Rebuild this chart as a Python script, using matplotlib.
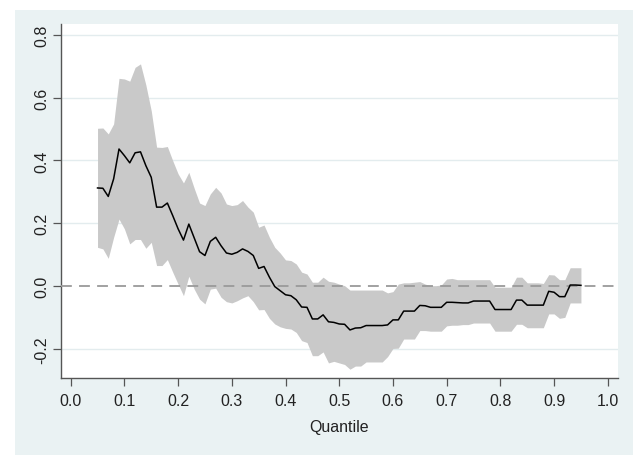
"""
Quantile regression coefficients with confidence band (Stata-style plot).
"""

import matplotlib
matplotlib.use('Agg')
import matplotlib.pyplot as plt
from matplotlib.patches import Rectangle

# quantiles 0.05 .. 0.95
quantiles = [
    0.05, 0.06, 0.07, 0.08, 0.09, 0.10, 0.11, 0.12, 0.13, 0.14,
    0.15, 0.16, 0.17, 0.18, 0.19, 0.20, 0.21, 0.22, 0.23, 0.24,
    0.25, 0.26, 0.27, 0.28, 0.29, 0.30, 0.31, 0.32, 0.33, 0.34,
    0.35, 0.36, 0.37, 0.38, 0.39, 0.40, 0.41, 0.42, 0.43, 0.44,
    0.45, 0.46, 0.47, 0.48, 0.49, 0.50, 0.51, 0.52, 0.53, 0.54,
    0.55, 0.56, 0.57, 0.58, 0.59, 0.60, 0.61, 0.62, 0.63, 0.64,
    0.65, 0.66, 0.67, 0.68, 0.69, 0.70, 0.71, 0.72, 0.73, 0.74,
    0.75, 0.76, 0.77, 0.78, 0.79, 0.80, 0.81, 0.82, 0.83, 0.84,
    0.85, 0.86, 0.87, 0.88, 0.89, 0.90, 0.91, 0.92, 0.93, 0.94,
    0.95,
]

# point estimates
coef = [
    0.312, 0.311, 0.285, 0.341, 0.436, 0.415, 0.392, 0.424, 0.427, 0.383,
    0.346, 0.251, 0.251, 0.264, 0.224, 0.182, 0.146, 0.197, 0.153, 0.109,
    0.097, 0.142, 0.155, 0.128, 0.105, 0.101, 0.107, 0.118, 0.110, 0.097,
    0.056, 0.062, 0.028, -0.002, -0.015, -0.028, -0.031, -0.044, -0.067, -0.068,
    -0.105, -0.105, -0.092, -0.114, -0.116, -0.121, -0.122, -0.140, -0.134, -0.133,
    -0.126, -0.126, -0.126, -0.126, -0.124, -0.108, -0.108, -0.080, -0.080, -0.080,
    -0.062, -0.063, -0.068, -0.068, -0.068, -0.052, -0.052, -0.053, -0.054, -0.054,
    -0.048, -0.048, -0.048, -0.048, -0.075, -0.075, -0.075, -0.075, -0.045, -0.045,
    -0.061, -0.061, -0.061, -0.061, -0.017, -0.020, -0.034, -0.034, 0.003, 0.003,
    0.002,
]

# upper confidence bound
upper = [
    0.502, 0.503, 0.484, 0.516, 0.661, 0.659, 0.652, 0.696, 0.707, 0.640,
    0.558, 0.442, 0.441, 0.444, 0.399, 0.357, 0.328, 0.362, 0.311, 0.264,
    0.256, 0.293, 0.314, 0.296, 0.261, 0.256, 0.259, 0.272, 0.251, 0.235,
    0.187, 0.194, 0.155, 0.123, 0.105, 0.083, 0.081, 0.070, 0.044, 0.038,
    0.012, 0.012, 0.028, 0.015, 0.012, 0.006, 0.001, -0.013, -0.013, -0.013,
    -0.013, -0.013, -0.013, -0.013, -0.022, -0.018, 0.006, 0.010, 0.010, 0.012,
    0.014, 0.006, 0.001, 0.001, 0.003, 0.022, 0.024, 0.020, 0.020, 0.020,
    0.020, 0.020, 0.020, 0.020, -0.004, -0.004, -0.004, -0.004, 0.028, 0.028,
    0.010, 0.010, 0.010, 0.008, 0.036, 0.035, 0.020, 0.020, 0.058, 0.058,
    0.058,
]

# lower confidence bound
lower = [
    0.123, 0.118, 0.088, 0.155, 0.213, 0.182, 0.134, 0.148, 0.148, 0.120,
    0.139, 0.065, 0.065, 0.084, 0.044, 0.006, -0.031, 0.031, -0.010, -0.042,
    -0.057, -0.010, -0.007, -0.036, -0.050, -0.054, -0.047, -0.038, -0.031, -0.050,
    -0.076, -0.075, -0.103, -0.121, -0.130, -0.135, -0.137, -0.148, -0.174, -0.180,
    -0.222, -0.222, -0.210, -0.245, -0.240, -0.245, -0.250, -0.265, -0.255, -0.255,
    -0.242, -0.242, -0.242, -0.242, -0.225, -0.199, -0.198, -0.169, -0.169, -0.169,
    -0.142, -0.142, -0.144, -0.144, -0.144, -0.127, -0.125, -0.125, -0.123, -0.123,
    -0.118, -0.118, -0.118, -0.118, -0.144, -0.144, -0.144, -0.144, -0.122, -0.122,
    -0.133, -0.133, -0.133, -0.133, -0.089, -0.089, -0.103, -0.100, -0.054, -0.054,
    -0.054,
]

x_ticks = [0.0, 0.1, 0.2, 0.3, 0.4, 0.5, 0.6, 0.7, 0.8, 0.9, 1.0]
y_ticks = [-0.2, 0.0, 0.2, 0.4, 0.6, 0.8]

plt.rcParams['font.family'] = ['Liberation Sans', 'DejaVu Sans']

fig = plt.figure(figsize=(6.33, 4.56), dpi=100)
fig.patch.set_facecolor('white')
# Stata-like light blue graph region, drawn behind the axes
bg = Rectangle((15 / 633, 0), 1 - 15 / 633, (456 - 11) / 456,
               transform=fig.transFigure, facecolor='#EAF2F3',
               edgecolor='none', zorder=-10)
fig.add_artist(bg)

ax = fig.add_axes([61 / 633, (456 - 379) / 456, (618 - 61) / 633, (379 - 25) / 456])
ax.set_zorder(1)
ax.set_facecolor('white')

# grid lines
for yv in y_ticks:
    if yv != 0.0:
        ax.axhline(yv, color='#E3ECEE', lw=1.0, zorder=1)

# confidence band and estimate
ax.fill_between(quantiles, lower, upper, color='#C9C9C9', lw=0, zorder=2)
ax.axhline(0, color='#9A9A9A', lw=1.3, ls=(0, (6, 4)), zorder=3)
ax.plot(quantiles, coef, color='black', lw=1.1, zorder=4)

ax.set_xlim(-0.018, 1.019)
ax.set_ylim(-0.293, 0.834)
ax.set_xticks(x_ticks)
ax.set_xticklabels([f'{v:.1f}' for v in x_ticks])
ax.set_yticks(y_ticks)
ax.set_yticklabels([f'{v:.1f}' for v in y_ticks], rotation=90, va='center')

for side in ['top', 'right']:
    ax.spines[side].set_visible(False)
for side in ['left', 'bottom']:
    ax.spines[side].set_color('#555555')
    ax.spines[side].set_linewidth(1.0)

ax.tick_params(direction='out', length=5.5, width=0.9, color='#555555',
               labelsize=11.5, labelcolor='#222222')
ax.tick_params(axis='x', pad=5)
ax.tick_params(axis='y', pad=3)
ax.set_xlabel('Quantile', fontsize=11.5, color='#222222', labelpad=8)

fig.savefig('out.png', dpi=100, facecolor=fig.get_facecolor())
